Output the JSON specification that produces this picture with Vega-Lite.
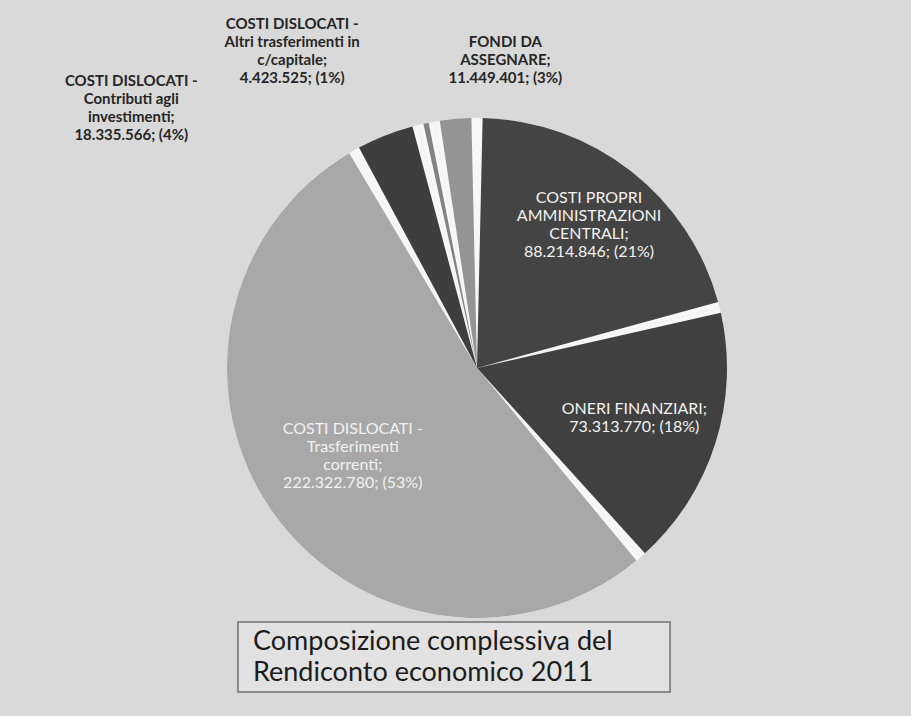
{
  "$schema": "https://vega.github.io/schema/vega-lite/v6.json",
  "background": "#d9d9d9",
  "padding": {"left": 43, "top": 10, "right": 0, "bottom": 24},
  "bounds": "flush",
  "spacing": 0,
  "config": {"view": {"stroke": null}, "font": "Lato"},
  "datasets": {
    "pie": [
      {"name": "CP", "ord": 1, "value": 88214846, "label": "COSTI PROPRI\nAMMINISTRAZIONI\nCENTRALI;\n88.214.846; (21%)"},
      {"name": "OF", "ord": 2, "value": 73313770, "label": "ONERI FINANZIARI;\n73.313.770; (18%)"},
      {"name": "TC", "ord": 3, "value": 222322780, "label": "COSTI DISLOCATI -\nTrasferimenti\ncorrenti;\n222.322.780; (53%)"},
      {"name": "CI", "ord": 4, "value": 18335566, "label": "COSTI DISLOCATI -\nContributi agli\ninvestimenti;\n18.335.566; (4%)"},
      {"name": "AT", "ord": 5, "value": 4423525, "label": "COSTI DISLOCATI -\nAltri trasferimenti in\nc/capitale;\n4.423.525; (1%)"},
      {"name": "FD", "ord": 6, "value": 11449401, "label": "FONDI DA\nASSEGNARE;\n11.449.401; (3%)"}
    ]
  },
  "vconcat": [
    {
      "width": 868,
      "height": 612,
      "data": {"name": "pie"},
      "encoding": {
        "theta": {"field": "value", "type": "quantitative", "stack": true},
        "order": {"field": "ord", "type": "quantitative"}
      },
      "layer": [
        {"mark": {"type": "arc", "radius": 250, "yOffset": 52, "color": "#f7f7f7"}},
        {
          "mark": {"type": "arc", "radius": 250, "yOffset": 52, "padAngle": 0.045},
          "encoding": {
            "color": {
              "field": "name", "type": "nominal", "legend": null,
              "scale": {"domain": ["CP", "OF", "TC", "CI", "AT", "FD"], "range": ["#444444", "#404040", "#a8a8a8", "#3e3e3e", "#828282", "#949494"]}
            }
          }
        },
        {
          "mark": {"type": "text", "radius": 182, "dy": 25, "fontSize": 16, "lineHeight": 18, "lineBreak": "\n", "color": "#f2f2f2", "align": "center", "baseline": "middle"},
          "encoding": {"text": {"condition": {"test": "datum.name === 'CP'", "field": "label"}, "value": ""}}
        },
        {
          "mark": {"type": "text", "radius": 165, "dy": 43, "fontSize": 16, "lineHeight": 18, "lineBreak": "\n", "color": "#f2f2f2", "align": "center", "baseline": "middle"},
          "encoding": {"text": {"condition": {"test": "datum.name === 'OF'", "field": "label"}, "value": ""}}
        },
        {
          "mark": {"type": "text", "radius": 152, "dy": 25, "fontSize": 16, "lineHeight": 18, "lineBreak": "\n", "color": "#f2f2f2", "align": "center", "baseline": "middle"},
          "encoding": {"text": {"condition": {"test": "datum.name === 'TC'", "field": "label"}, "value": ""}}
        },
        {
          "mark": {"type": "text", "radius": 100, "dx": -309, "dy": -142, "fontSize": 15, "fontWeight": "bold", "lineHeight": 18, "lineBreak": "\n", "color": "#262626", "align": "center", "baseline": "middle"},
          "encoding": {"text": {"condition": {"test": "datum.name === 'CI'", "field": "label"}, "value": ""}}
        },
        {
          "mark": {"type": "text", "radius": 318, "dx": -120, "dy": 19, "fontSize": 15, "fontWeight": "bold", "lineHeight": 18, "lineBreak": "\n", "color": "#262626", "align": "center", "baseline": "middle"},
          "encoding": {"text": {"condition": {"test": "datum.name === 'AT'", "field": "label"}, "value": ""}}
        },
        {
          "mark": {"type": "text", "radius": 310, "dx": 55, "dy": 35, "fontSize": 15, "fontWeight": "bold", "lineHeight": 18, "lineBreak": "\n", "color": "#262626", "align": "center", "baseline": "middle"},
          "encoding": {"text": {"condition": {"test": "datum.name === 'FD'", "field": "label"}, "value": ""}}
        }
      ]
    },
    {
      "bounds": "flush",
      "spacing": 20,
      "hconcat": [
        {
          "width": 175,
          "height": 70,
          "data": {"values": [{}]},
          "mark": "text",
          "encoding": {"text": {"value": ""}}
        },
        {
          "width": 432,
          "height": 70,
          "view": {"stroke": "#707070", "strokeWidth": 1.5, "fill": "#e2e2e2"},
          "data": {"values": [{}]},
          "mark": {"type": "text", "align": "left", "baseline": "middle", "dx": -201, "dy": -15.5, "fontSize": 27, "lineHeight": 31, "color": "#1c1c1c"},
          "encoding": {"text": {"value": ["Composizione complessiva del", "Rendiconto economico 2011"]}}
        }
      ]
    }
  ]
}
